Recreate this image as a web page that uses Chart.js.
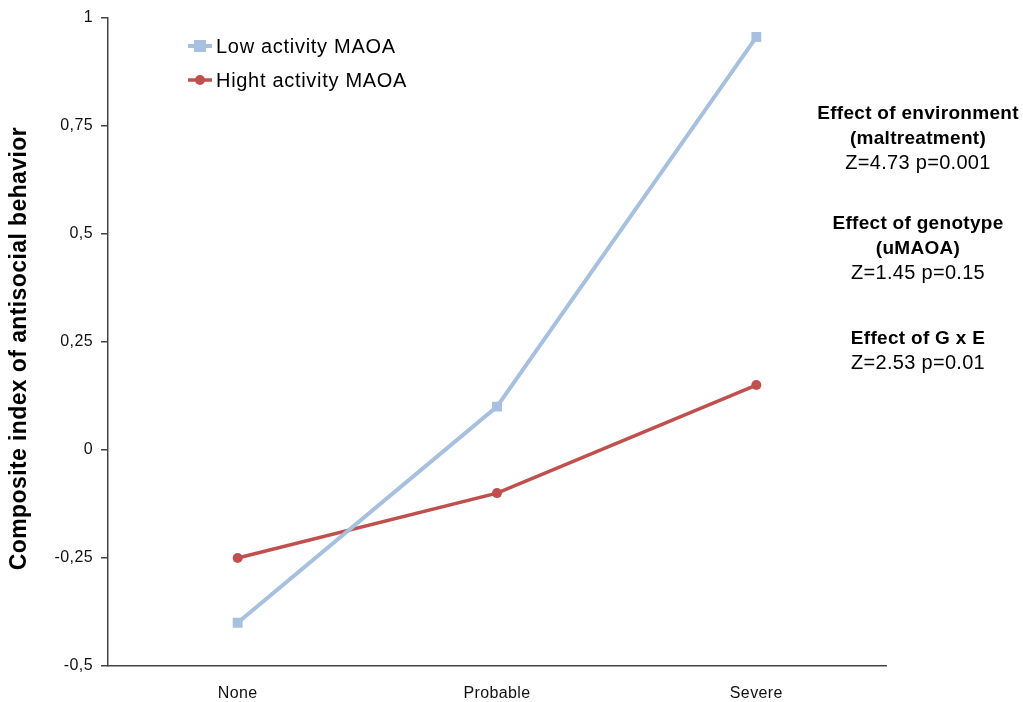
<!DOCTYPE html>
<html>
<head>
<meta charset="utf-8">
<script src="https://cdn.jsdelivr.net/npm/chart.js@4/dist/chart.umd.min.js"></script>
<style>
  html, body { margin: 0; padding: 0; background: #fff; }
  #wrap { position: relative; width: 1023px; height: 702px; }
  canvas { display: block; }
</style>
</head>
<body>
<div id="wrap"><canvas id="c" width="1023" height="702"></canvas></div>
<script>
// Maltreatment level on the x axis
const categories = ['None', 'Probable', 'Severe'];
// Mean composite antisocial score per group
const lowActivity = [-0.40, 0.10, 0.955];
const highActivity = [-0.25, -0.10, 0.15];
const seriesNames = ['Low activity MAOA', 'Hight activity MAOA'];
// Y axis range and tick step
const yMin = -0.5, yMax = 1, yStep = 0.25;
// Statistics block on the right: [text, bold]
const statLines = [
  [['Effect of environment', true], ['(maltreatment)', true], ['Z=4.73 p=0.001', false]],
  [['Effect of genotype', true], ['(uMAOA)', true], ['Z=1.45 p=0.15', false]],
  [['Effect of G x E', true], ['Z=2.53 p=0.01', false]]
];

const FONT = '"Liberation Sans", Arial, Helvetica, sans-serif';
const BLUE = '#a7c0df';
const RED = '#c0504d';
const AXIS = '#444444';

// Slightly open tracking for the axis text
const tracking = {
  id: 'tracking',
  beforeDraw(chart) { chart.ctx.letterSpacing = '0.4px'; }
};

// Legend entries and the statistics text drawn inside the canvas
const overlay = {
  id: 'overlay',
  afterDraw(chart) {
    const ctx = chart.ctx;
    ctx.save();
    // legend
    const items = [
      { name: seriesNames[0], color: BLUE, style: 'rect', y: 46 },
      { name: seriesNames[1], color: RED, style: 'circle', y: 80 }
    ];
    items.forEach(it => {
      ctx.strokeStyle = it.color;
      ctx.lineWidth = it.style === 'rect' ? 4 : 3.5;
      ctx.beginPath();
      ctx.moveTo(188, it.y);
      ctx.lineTo(212, it.y);
      ctx.stroke();
      ctx.fillStyle = it.color;
      if (it.style === 'rect') {
        ctx.fillRect(194, it.y - 6, 12, 12);
      } else {
        ctx.beginPath();
        ctx.arc(200, it.y, 5, 0, Math.PI * 2);
        ctx.fill();
      }
      ctx.fillStyle = '#000';
      ctx.font = '20px ' + FONT;
      ctx.letterSpacing = '0.7px';
      ctx.textAlign = 'left';
      ctx.textBaseline = 'middle';
      ctx.fillText(it.name, 216, it.y + 1);
    });
    // statistics
    const cx = 918;
    const starts = [114, 224, 339];
    ctx.textAlign = 'center';
    ctx.textBaseline = 'middle';
    statLines.forEach((block, b) => {
      block.forEach((ln, i) => {
        ctx.font = (ln[1] ? 'bold 19px ' : '20px ') + FONT;
        ctx.letterSpacing = ln[1] ? '0.3px' : '0.3px';
        ctx.fillStyle = '#000';
        ctx.fillText(ln[0], cx, starts[b] + i * 24.5);
      });
    });
    ctx.restore();
  }
};

new Chart(document.getElementById('c'), {
  type: 'line',
  data: {
    labels: categories,
    datasets: [
      {
        label: seriesNames[0],
        data: lowActivity,
        borderColor: BLUE,
        backgroundColor: BLUE,
        borderWidth: 4,
        pointStyle: 'rect',
        pointRadius: 7,
        pointBorderWidth: 0,
        pointHoverRadius: 7,
        tension: 0
      },
      {
        label: seriesNames[1],
        data: highActivity,
        borderColor: RED,
        backgroundColor: RED,
        borderWidth: 3.5,
        pointStyle: 'circle',
        pointRadius: 5,
        pointBorderWidth: 0,
        pointHoverRadius: 5,
        tension: 0
      }
    ]
  },
  options: {
    responsive: false,
    animation: false,
    events: [],
    layout: { padding: { top: 14, right: 137, left: 0, bottom: 0 } },
    plugins: {
      legend: { display: false },
      tooltip: { enabled: false }
    },
    scales: {
      x: {
        offset: true,
        grid: { display: false, drawTicks: false },
        border: { display: true, color: AXIS, width: 1.5 },
        ticks: { color: '#111', font: { family: FONT, size: 16 }, padding: 18 },
        afterFit(s) { s.height = 36; }
      },
      y: {
        min: yMin,
        max: yMax,
        grid: { display: true, drawOnChartArea: false, drawTicks: true, tickLength: 7, color: AXIS, lineWidth: 1.5 },
        border: { display: true, color: AXIS, width: 1.5 },
        ticks: {
          stepSize: yStep,
          color: '#111',
          font: { family: FONT, size: 16 },
          padding: 8,
          callback: v => String(Math.round(v * 100) / 100).replace('.', ',')
        },
        title: {
          display: true,
          text: 'Composite index of antisocial behavior  ',
          color: '#000',
          font: { family: FONT, size: 23, weight: 'bold' },
          padding: { top: 6, bottom: 0 }
        },
        afterFit(s) { s.width = 108; }
      }
    }
  },
  plugins: [tracking, overlay]
});
</script>
</body>
</html>
